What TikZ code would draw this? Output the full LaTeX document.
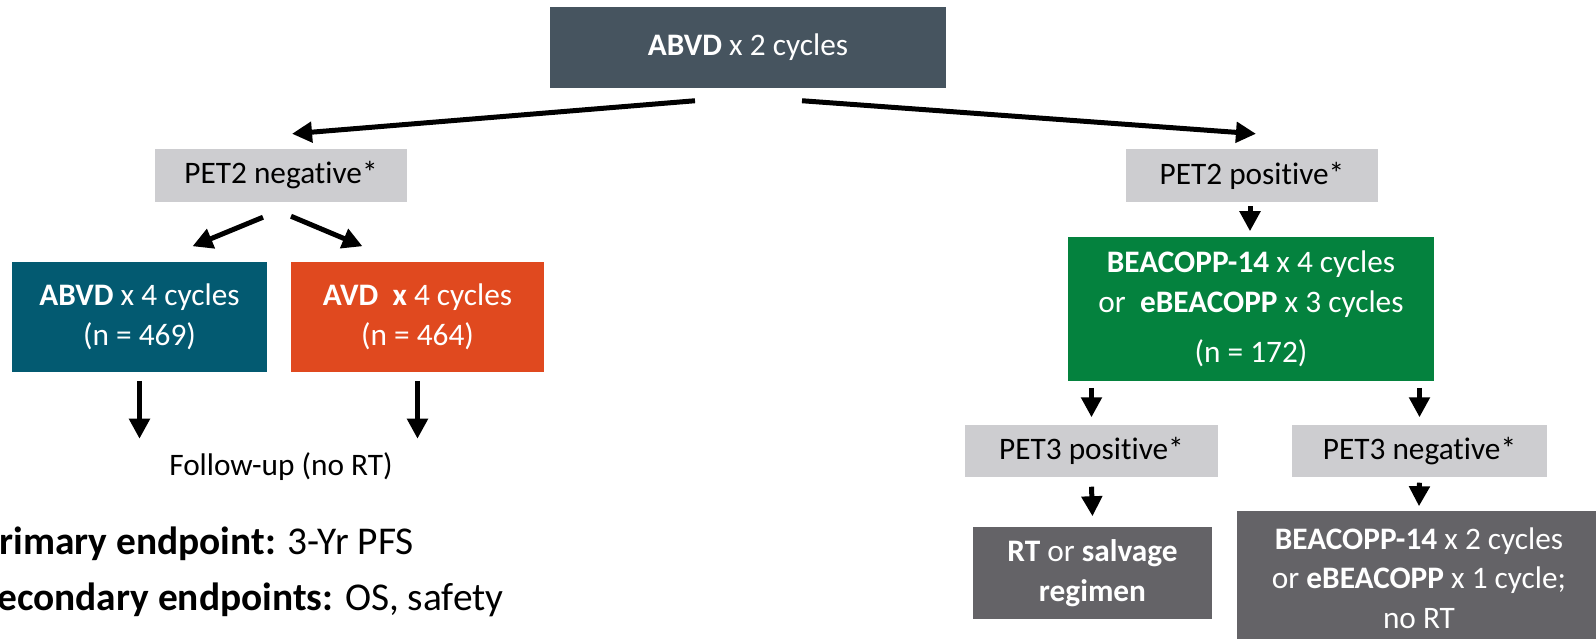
\documentclass[tikz,border=0pt]{standalone}
\usepackage{fontspec}
\setmainfont{Carlito}[Ligatures=CommonOff]
\usetikzlibrary{arrows.meta,positioning,calc}
\definecolor{slatebox}{HTML}{46545F}
\definecolor{greybox}{HTML}{CDCDD0}
\definecolor{tealbox}{HTML}{035A71}
\definecolor{orangebox}{HTML}{E0491F}
\definecolor{greenbox}{HTML}{04823E}
\definecolor{darkbox}{HTML}{646367}
\tikzset{
  stage/.style={fill=slatebox, text=white, align=center, inner sep=0pt},
  petbox/.style={fill=greybox, text=black, align=center, inner sep=0pt, minimum height=0.52cm},
  arm/.style={text=white, align=center, inner sep=0pt},
  arrow/.style={-{Triangle[length=5.7pt,width=5.7pt]}, line width=1.42pt, draw=black}
}

\begin{document}
\begin{tikzpicture}[x=0.01cm, y=-0.01cm, font=\fontsize{8.9pt}{11.3pt}\selectfont]
  \useasboundingbox (0,0) rectangle (1596,638);
  \node[stage, minimum width=3.96cm, minimum height=0.81cm] (top) at (748,47.5) {\textbf{ABVD} x 2 cycles};

  \node[petbox, minimum width=2.52cm] (pettwoneg) at (281,175.5) {PET2 negative*};
  \node[petbox, minimum width=2.52cm] (pettwopos) at (1252,175.5) {PET2 positive*};

  \node[arm, fill=tealbox, minimum width=2.55cm, minimum height=1.10cm] (abvd) at (139.5,317) {\textbf{ABVD} x 4 cycles\\(n = 469)};
  \node[arm, fill=orangebox, minimum width=2.53cm, minimum height=1.10cm] (avd) at (417.5,317) {\textbf{AVD\ \ x} 4 cycles\\(n = 464)};
  \node[arm, fill=greenbox, minimum width=3.66cm, minimum height=1.44cm] (beacopp) at (1251,309) {\textbf{BEACOPP-14} x 4 cycles\\or\ \ \textbf{eBEACOPP} x 3 cycles\\[3pt](n = 172)};

  \node[anchor=base, inner sep=0pt] (followup) at (281,475) {Follow-up (no RT)};

  \node[petbox, minimum width=2.53cm] (petthreepos) at (1091.5,451) {PET3 positive*};
  \node[petbox, minimum width=2.55cm] (petthreeneg) at (1419.5,451) {PET3 negative*};

  \node[arm, fill=darkbox, minimum width=2.39cm, minimum height=0.92cm] (rtbox) at (1092.5,573) {\textbf{RT} or \textbf{salvage}\\\textbf{regimen}};
  \node[arm, fill=darkbox, minimum width=3.64cm, minimum height=1.34cm] (escbox) at (1419,578) {\textbf{BEACOPP-14} x 2 cycles\\or \textbf{eBEACOPP} x 1 cycle;\\no RT};

  \node[anchor=base west, inner sep=0pt, font=\fontsize{11.2pt}{14pt}\selectfont] (primary) at (-22,554) {\textbf{Primary endpoint:} 3-Yr PFS};
  \node[anchor=base west, inner sep=0pt, font=\fontsize{11.2pt}{14pt}\selectfont] (secondary) at (-22,610) {\textbf{Secondary endpoints:} OS, safety};

  % first split
  \draw[arrow] ($(top.south)+(-53,12)$) -- ($(pettwoneg.north)+(11,-15)$);
  \draw[arrow] ($(top.south)+(54,12)$) -- ($(pettwopos.north)+(4,-15)$);
  % PET2 negative arms
  \draw[arrow] ($(pettwoneg.south)+(-18,15)$) -- ($(abvd.north)+(53,-15)$);
  \draw[arrow] ($(pettwoneg.south)+(10,14)$) -- ($(avd.north)+(-55,-15)$);
  \draw[arrow] ($(abvd.south)+(0,8)$) -- ($(abvd.south)+(0,66)$);
  \draw[arrow] ($(avd.south)+(0,8)$) -- ($(avd.south)+(0,66)$);
  % PET2 positive
  \draw[arrow] ($(pettwopos.south)+(-2,4)$) -- ($(beacopp.north)+(-1,-5)$);
  \draw[arrow] ($(beacopp.south -| petthreepos.north)+(0,6)$) -- ($(petthreepos.north)+(0,-7)$);
  \draw[arrow] ($(beacopp.south -| petthreeneg.north)+(0,6)$) -- ($(petthreeneg.north)+(0,-7)$);
  \draw[arrow] ($(petthreepos.south)+(0,9)$) -- ($(rtbox.north)+(0,-10)$);
  \draw[arrow] ($(petthreeneg.south)+(0,5)$) -- ($(escbox.north)+(0,-4)$);
\end{tikzpicture}
\end{document}
